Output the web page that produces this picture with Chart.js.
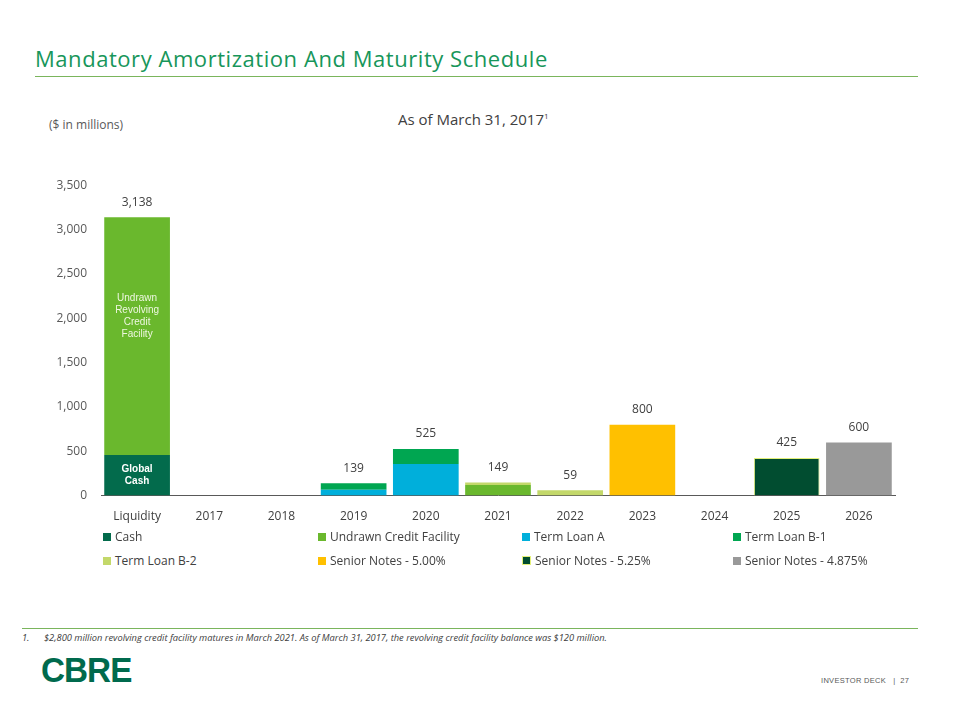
<!DOCTYPE html>
<html>
<head>
<meta charset="utf-8">
<script src="https://cdn.jsdelivr.net/npm/chart.js@4.4.0/dist/chart.umd.min.js"></script>
<style>
  body { margin: 0; width: 960px; height: 720px; background: #fff; position: relative; font-family: "Open Sans", sans-serif; overflow: hidden; }
  .title { position: absolute; left: 35px; top: 43px; font-size: 22px; color: #17965a; letter-spacing: 0.55px; }
  .rule { position: absolute; height: 1px; background: #7ab55c; }
  .units { position: absolute; left: 49px; top: 116px; font-size: 12px; color: #595959; }
  .subtitle { position: absolute; left: 398px; top: 109px; font-size: 15px; color: #404040; }
  .subtitle sup { font-size: 8px; }
  #chartBox { position: absolute; left: 30px; top: 164px; width: 870px; height: 374px; }
  #legend { position: absolute; left: 103px; top: 528px; width: 800px; font-size: 12px; color: #404040; }
  .lg { position: absolute; white-space: nowrap; }
  .lg i { display: inline-block; width: 8px; height: 8px; margin-right: 4px; vertical-align: 0px; }
  .foot { position: absolute; left: 22px; top: 631px; font-size: 9.3px; font-style: italic; color: #404040; }
  .foot span { display: inline-block; width: 22px; }
  .logo { position: absolute; left: 41px; top: 650px; font-family: "Liberation Sans", Arial, sans-serif; font-weight: bold; font-size: 35px; color: #006a4d; letter-spacing: -1px; transform: scaleX(0.95); transform-origin: left; }
  .deck { position: absolute; left: 821px; top: 676px; font-family: "Liberation Sans", Arial, sans-serif; font-size: 7.5px; color: #595959; letter-spacing: 0.3px; }
</style>
</head>
<body>
<div class="title">Mandatory Amortization And Maturity Schedule</div>
<div class="rule" style="left:35px; top:76px; width:883px;"></div>
<div class="units">($ in millions)</div>
<div class="subtitle">As of March 31, 2017<sup>1</sup></div>
<div id="chartBox"><canvas id="debtChart" width="870" height="374"></canvas></div>
<div id="legend"></div>
<div class="rule" style="left:22px; top:628px; width:896px;"></div>
<div class="foot"><span>1.</span>$2,800 million revolving credit facility matures in March 2021. As of March 31, 2017, the revolving credit facility balance was $120 million.</div>
<div class="logo">CBRE</div>
<div class="deck">INVESTOR DECK &nbsp;&nbsp;|&nbsp; 27</div>

<script>
// Data ($ in millions)
const categories = ['Liquidity', '2017', '2018', '2019', '2020', '2021', '2022', '2023', '2024', '2025', '2026'];
const cash        = [458, 0, 0, 0, 0, 0, 0, 0, 0, 0, 0];
const undrawn     = [2680, 0, 0, 0, 0, 120, 0, 0, 0, 0, 0];
const termLoanA   = [0, 0, 0, 65, 356, 0, 0, 0, 0, 0, 0];
const termLoanB1  = [0, 0, 0, 74, 169, 0, 0, 0, 0, 0, 0];
const termLoanB2  = [0, 0, 0, 0, 0, 29, 59, 0, 0, 0, 0];
const notes500    = [0, 0, 0, 0, 0, 0, 0, 800, 0, 0, 0];
const notes525    = [0, 0, 0, 0, 0, 0, 0, 0, 0, 425, 0];
const notes4875   = [0, 0, 0, 0, 0, 0, 0, 0, 0, 0, 600];
const yTicks      = [0, 500, 1000, 1500, 2000, 2500, 3000, 3500];

const series = [
  { label: 'Cash', data: cash, color: '#036b4c' },
  { label: 'Undrawn Credit Facility', data: undrawn, color: '#6ab82d' },
  { label: 'Term Loan A', data: termLoanA, color: '#00afdb' },
  { label: 'Term Loan B-1', data: termLoanB1, color: '#00a651' },
  { label: 'Term Loan B-2', data: termLoanB2, color: '#c3d86a' },
  { label: 'Senior Notes - 5.00%', data: notes500, color: '#ffc000' },
  { label: 'Senior  Notes - 5.25%', data: notes525, color: '#014d30', border: '#e3f07a' },
  { label: 'Senior Notes - 4.875%', data: notes4875, color: '#999999' }
];

const totals = categories.map((c, i) => series.reduce((s, d) => s + d.data[i], 0));

// legend in 4 columns
const legendCols = [0, 215, 419, 630];
const legend = document.getElementById('legend');
series.forEach((s, i) => {
  const el = document.createElement('div');
  el.className = 'lg';
  el.style.left = legendCols[i % 4] + 'px';
  el.style.top = (Math.floor(i / 4) * 24) + 'px';
  const sw = s.border ? 'border:1px solid ' + s.border + ';width:7px;height:7px;' : '';
  el.innerHTML = '<i style="background:' + s.color + ';' + sw + '"></i>' + s.label;
  legend.appendChild(el);
});

// totals above bars + text inside liquidity bar
const labelPlugin = {
  id: 'labels',
  afterDatasetsDraw(chart) {
    const ctx = chart.ctx;
    const x = chart.scales.x, y = chart.scales.y;
    ctx.save();
    ctx.textAlign = 'center';
    ctx.font = '12px "Open Sans"';
    ctx.fillStyle = '#404040';
    totals.forEach((t, i) => {
      if (!t) return;
      ctx.textBaseline = 'bottom';
      ctx.fillText(t.toLocaleString('en-US'), x.getPixelForValue(i), y.getPixelForValue(t) - 9);
    });
    ctx.fillStyle = '#eef7e0';
    ctx.textBaseline = 'middle';
    const cx = x.getPixelForValue(0);
    ctx.font = '10px "Liberation Sans"';
    ['Undrawn', 'Revolving', 'Credit', 'Facility'].forEach((w, k) => {
      ctx.fillText(w, cx, y.getPixelForValue(2025) + (k - 1.5) * 12);
    });
    ctx.fillStyle = '#ffffff';
    ctx.font = 'bold 10px "Liberation Sans"';
    ['Global', 'Cash'].forEach((w, k) => {
      ctx.fillText(w, cx, y.getPixelForValue(cash[0] / 2) + (k - 0.5) * 12);
    });
    ctx.restore();
  }
};

new Chart(document.getElementById('debtChart'), {
  type: 'bar',
  data: {
    labels: categories,
    datasets: series.map(s => ({
      label: s.label,
      data: s.data,
      backgroundColor: s.color,
      borderColor: s.border || s.color,
      borderWidth: s.border ? 1 : 0,
      barPercentage: 0.91,
      categoryPercentage: 1
    }))
  },
  options: {
    responsive: false,
    animation: false,
    layout: { padding: { top: 6, right: 5 } },
    plugins: { legend: { display: false }, tooltip: { enabled: false } },
    scales: {
      x: {
        stacked: true,
        grid: { display: false, drawTicks: false },
        border: { color: '#595959', width: 1 },
        ticks: { color: '#404040', font: { family: 'Open Sans', size: 12 }, padding: 14 }
      },
      y: {
        stacked: true,
        min: 0, max: 3500,
        afterFit(scale) { scale.width = 71; },
        afterBuildTicks(scale) { scale.ticks = yTicks.map(v => ({ value: v })); },
        grid: { display: false, drawTicks: false },
        border: { display: false },
        ticks: {
          color: '#595959', padding: 14,
          font: { family: 'Open Sans', size: 12 },
          callback: v => v.toLocaleString('en-US')
        }
      }
    }
  },
  plugins: [labelPlugin]
});
</script>
</body>
</html>
